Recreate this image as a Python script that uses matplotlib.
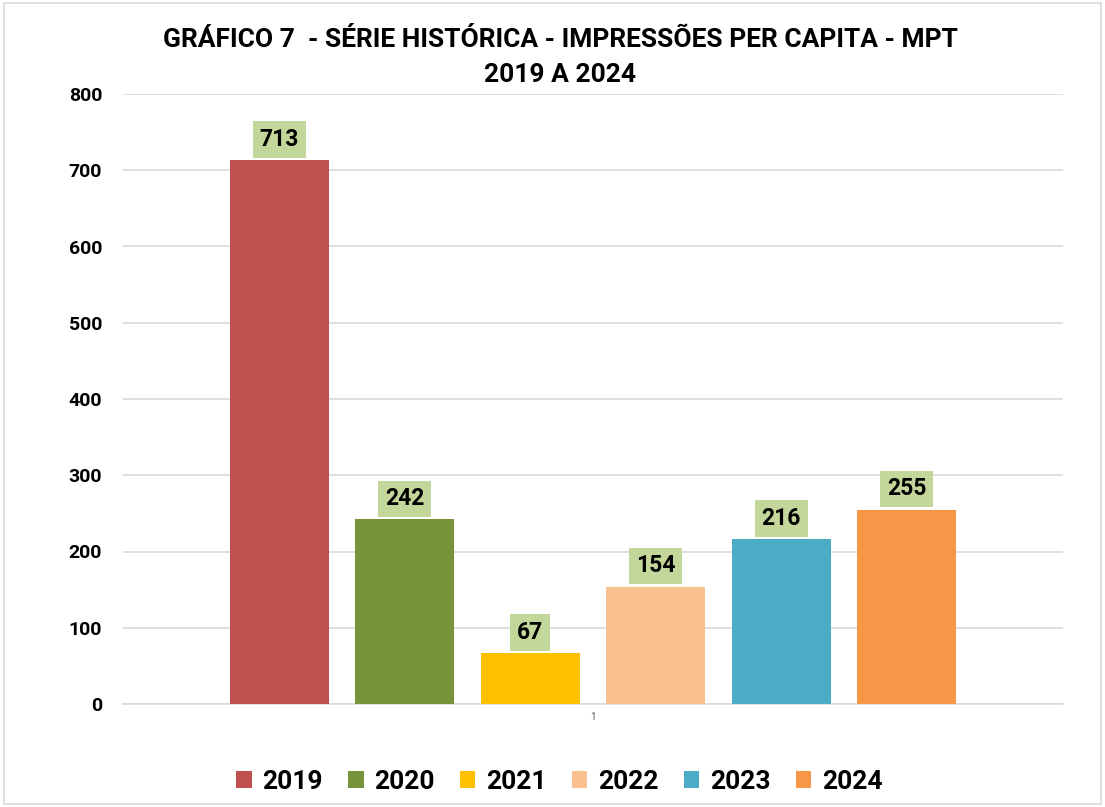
import matplotlib.pyplot as plt
from matplotlib.patches import Rectangle

# Data
years = ["2019", "2020", "2021", "2022", "2023", "2024"]
values = [713, 242, 67, 154, 216, 255]
colors = ["#C0504D", "#77933C", "#FFC000", "#FAC090", "#4BACC6", "#F79646"]

plt.rcParams['font.family'] = ['DejaVu Sans Condensed', 'Roboto', 'DejaVu Sans']

fig = plt.figure(figsize=(11.05, 8.07), dpi=100)
ax = fig.add_axes([123 / 1105, 1 - 704 / 807, 940 / 1105, 610 / 807])

# light border around the whole chart
fig.patches.append(Rectangle((0.004, 0.004), 0.992, 0.992, transform=fig.transFigure,
                             fill=False, edgecolor="#D9D9D9", linewidth=1.2))

n = len(years)
for i, (yr, v, c) in enumerate(zip(years, values, colors)):
    x = i - (n - 1) / 2
    ax.bar(x, v, width=0.79, color=c, label=yr, zorder=3)
    ax.text(x, v + 27, str(v), ha="center", va="center", fontsize=16.5, fontweight="bold",
            bbox=dict(boxstyle="square,pad=0.3", facecolor="#C4D79B", edgecolor="none"),
            zorder=4)

ax.set_xlim(-3.745, 3.745)
ax.set_ylim(0, 800)
ax.set_yticks(range(0, 801, 100))
ax.set_xticks([0])
ax.set_xticklabels(["1"], fontsize=7, color="#595959")
ax.tick_params(axis="y", length=0, labelsize=14, pad=15)
ax.tick_params(axis="x", length=0, pad=6)
for lab in ax.get_yticklabels():
    lab.set_fontweight("bold")
ax.yaxis.grid(True, color="#D9D9D9", linewidth=1.2, zorder=0)
for s in ["top", "right", "left"]:
    ax.spines[s].set_visible(False)
ax.spines["bottom"].set_color("#D9D9D9")
ax.spines["bottom"].set_linewidth(1.2)

fig.text(0.507, 1 - 40 / 807, "GRÁFICO 7  - SÉRIE HISTÓRICA - IMPRESSÕES PER CAPITA - MPT",
         ha="center", va="center", fontsize=19, fontweight="bold")
fig.text(0.507, 1 - 75 / 807, "2019 A 2024", ha="center", va="center",
         fontsize=19, fontweight="bold")

leg = fig.legend(loc="center", bbox_to_anchor=(0.506, 1 - 782 / 807), ncol=6, frameon=False,
                 prop={"size": 19, "weight": "bold"}, handlelength=0.6, handleheight=0.6,
                 handletextpad=0.4, columnspacing=0.95)

fig.savefig("out.png", dpi=100)
